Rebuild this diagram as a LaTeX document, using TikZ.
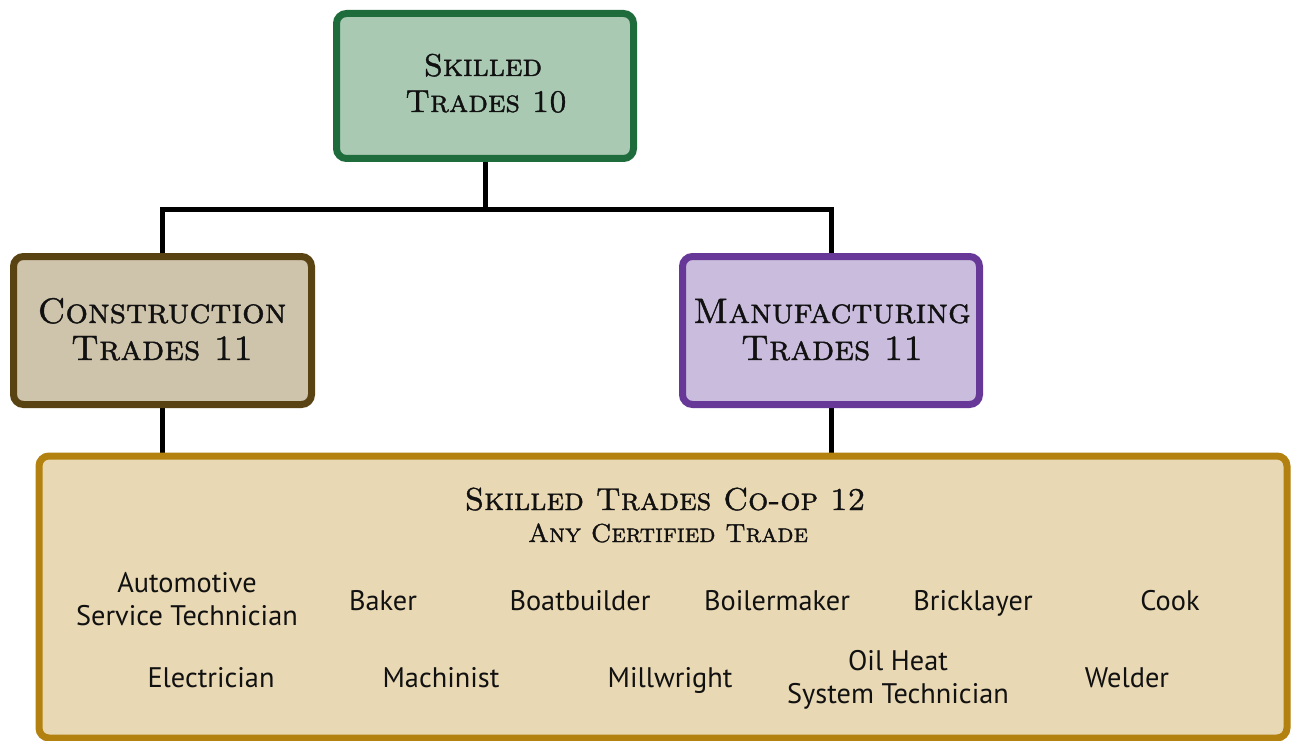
\documentclass[tikz,border=0pt]{standalone}
\usepackage{fontspec}
\newfontfamily\tradefont{PT Sans}
\newfontfamily\headfont[Extension=.otf, FakeBold=1.2]{lmromancaps10-regular}
\usetikzlibrary{backgrounds}
\definecolor{topB}{HTML}{1E6B3C}
\definecolor{topF}{HTML}{A9C9B3}
\definecolor{conB}{HTML}{5A4312}
\definecolor{conF}{HTML}{CEC3AB}
\definecolor{manB}{HTML}{673897}
\definecolor{manF}{HTML}{C9BCDC}
\definecolor{coopB}{HTML}{B3810F}
\definecolor{coopF}{HTML}{E9D8B4}
\definecolor{ink}{HTML}{111111}
\tikzset{
  box/.style={rectangle, rounded corners=10pt, line width=7pt, inner sep=0pt},
  head/.style={anchor=base, inner sep=0pt, text=ink, font=\headfont\fontsize{35.5}{38}\selectfont},
  headsub/.style={anchor=base, inner sep=0pt, text=ink, font=\headfont\fontsize{26}{30}\selectfont},
  trade/.style={anchor=base, inner sep=0pt, text=ink, font=\tradefont\fontsize{28.3}{32}\selectfont},
  conn/.style={line width=5pt, black}
}
\begin{document}
\begin{tikzpicture}[x=1pt,y=-1pt]
\useasboundingbox (0,0) rectangle (1291,741);
% boxes
\node[box, draw=topB, fill=topF, minimum width=297pt, minimum height=145pt] (top) at (485,86) {};
\node[box, draw=conB, fill=conF, minimum width=298pt, minimum height=148pt] (cons) at (162.5,330.5) {};
\node[box, draw=manB, fill=manF, minimum width=297pt, minimum height=148pt] (manu) at (831,330.5) {};
\node[box, draw=coopB, fill=coopF, minimum width=1248pt, minimum height=282pt] (coop) at (663,597) {};
% connectors
\begin{scope}[on background layer]
\coordinate (j) at (485,209);
\draw[conn] (top.south) -- (j);
\draw[conn] (cons.north) |- (j) -| (manu.north);
\draw[conn] (cons.south) -- (cons.south |- coop.north);
\draw[conn] (manu.south) -- (manu.south |- coop.north);
\end{scope}
% titles
\node[head, font=\headfont\fontsize{31.5}{36}\selectfont] (t1) at (483,76) {Skilled};
\node[head, font=\headfont\fontsize{31.5}{36}\selectfont] (t2) at (486,112) {Trades 10};
\node[head] (c1) at (162,323) {Construction};
\node[head] (c2) at (162,360) {Trades 11};
\node[head] (m1) at (832,323) {Manufacturing};
\node[head] (m2) at (832,360) {Trades 11};
\node[head, font=\headfont\fontsize{31.7}{34}\selectfont] (k1) at (665,510) {Skilled Trades Co-op 12};
\node[headsub] (k2) at (668,542) {Any Certified Trade};
% trades row 1
\node[trade] (a1) at (187,592) {Automotive};
\node[trade] (a2) at (187,625) {Service Technician};
\node[trade] (bak) at (383,610) {Baker};
\node[trade] (boa) at (580,610) {Boatbuilder};
\node[trade] (boi) at (777,610) {Boilermaker};
\node[trade] (bri) at (973,610) {Bricklayer};
\node[trade] (coo) at (1170,610) {Cook};
% trades row 2
\node[trade] (ele) at (211,687) {Electrician};
\node[trade] (mac) at (441,687) {Machinist};
\node[trade] (mil) at (670,687) {Millwright};
\node[trade] (oil1) at (898,670) {Oil Heat};
\node[trade] (oil2) at (898,703) {System Technician};
\node[trade] (wel) at (1127,687) {Welder};
\end{tikzpicture}
\end{document}
